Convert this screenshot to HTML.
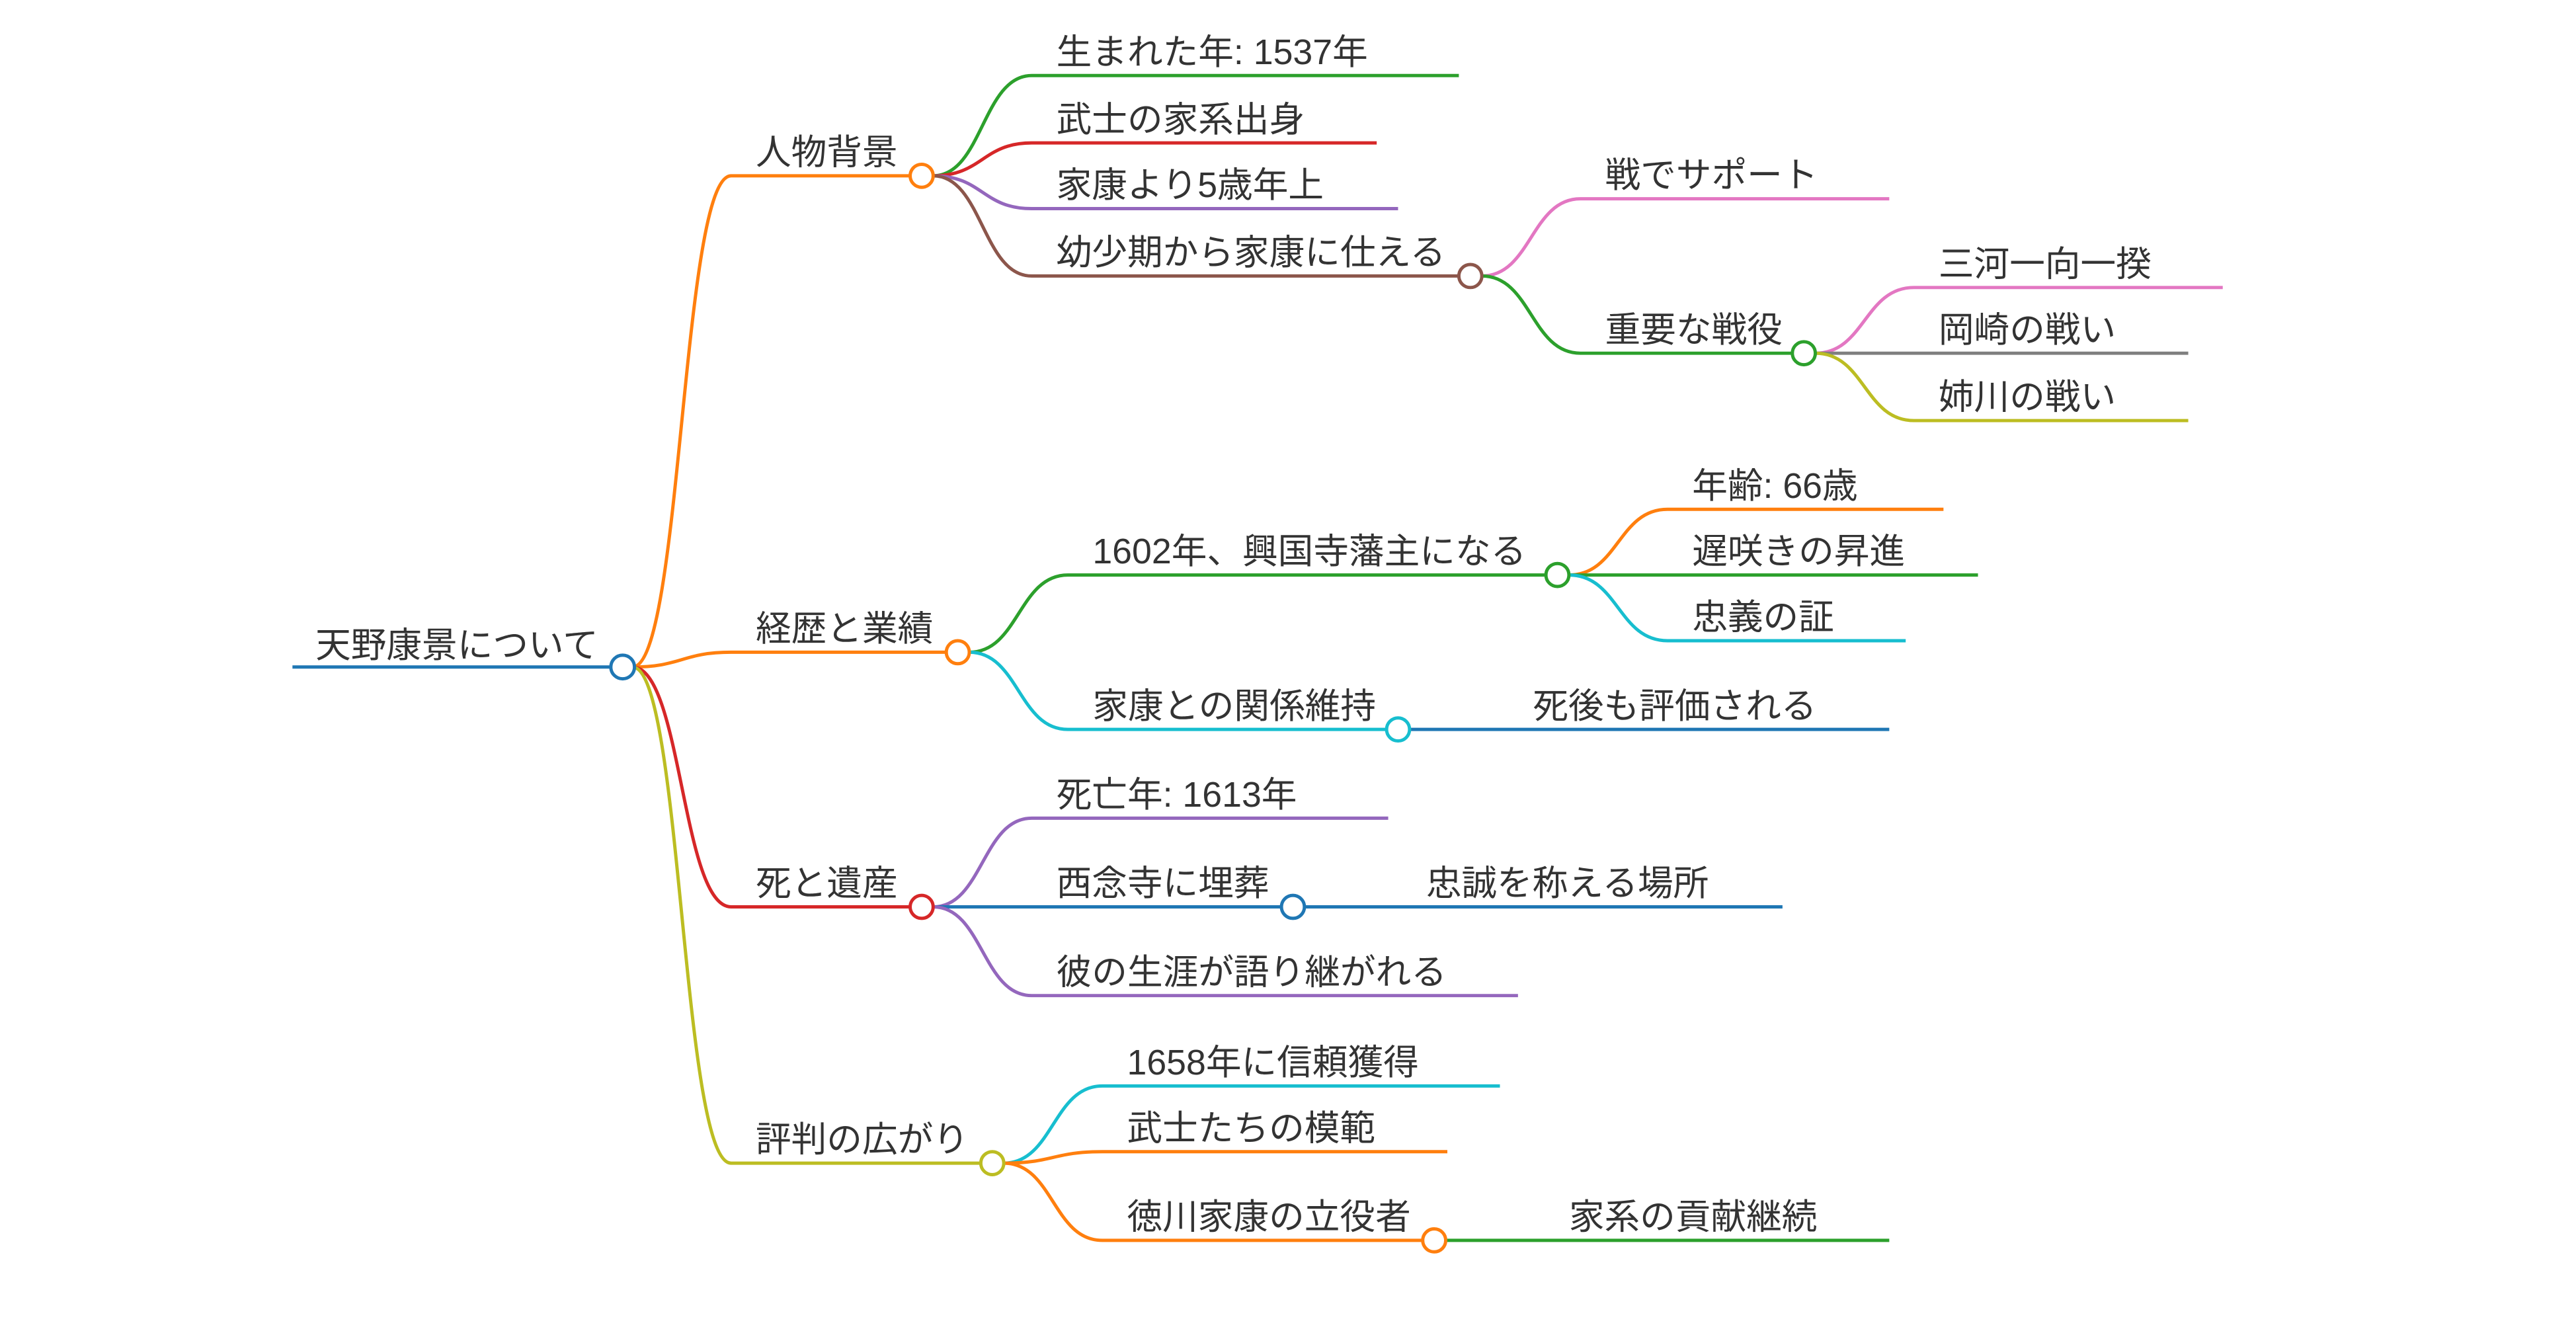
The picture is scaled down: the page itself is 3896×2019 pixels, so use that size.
<!DOCTYPE html>
<html><head><meta charset="utf-8">
<style>
html,body{margin:0;padding:0;background:#fff;}
svg{display:block;}
text{font-family:"Liberation Sans","Noto Sans CJK JP",sans-serif;font-size:21.6px;fill:#333;}
path{fill:none;stroke-width:2;}
circle{fill:#fff;stroke-width:2;}
</style></head><body>
<svg width="3896" height="2019" viewBox="0 0 1568 812.6" xmlns="http://www.w3.org/2000/svg">
<path d="M178 406 H372" stroke="#1f77b4" stroke-width="2.8"/>
<text x="192" y="400">天野康景について</text>

<path d="M385 406 C415 406,415 107,445 107 H554" stroke="#ff7f0e"/>
<path d="M385 406 C415 406,415 397,445 397 H576" stroke="#ff7f0e"/>
<path d="M385 406 C415 406,415 552,445 552 H554" stroke="#d62728"/>
<path d="M385 406 C415 406,415 708,445 708 H597" stroke="#bcbd22"/>
<text x="460" y="100">人物背景</text>
<text x="460" y="390">経歴と業績</text>
<text x="460" y="545">死と遺産</text>
<text x="460" y="701">評判の広がり</text>

<path d="M568 107 C598 107,598 46,628 46 H888" stroke="#2ca02c"/>
<path d="M568 107 C598 107,598 87,628 87 H838" stroke="#d62728"/>
<path d="M568 107 C598 107,598 127,628 127 H851" stroke="#9467bd"/>
<path d="M568 107 C598 107,598 168,628 168 H888" stroke="#8c564b"/>
<text x="643" y="39">生まれた年: 1537年</text>
<text x="643" y="80">武士の家系出身</text>
<text x="643" y="120">家康より5歳年上</text>
<text x="643" y="161">幼少期から家康に仕える</text>

<path d="M902 168 C932 168,932 121,962 121 H1150" stroke="#e377c2"/>
<path d="M902 168 C932 168,932 215,962 215 H1091" stroke="#2ca02c"/>
<text x="977" y="114">戦でサポート</text>
<text x="977" y="208">重要な戦役</text>

<path d="M1105 215 C1135 215,1135 175,1165 175 H1353" stroke="#e377c2"/>
<path d="M1105 215 H1332" stroke="#7f7f7f"/>
<path d="M1105 215 C1135 215,1135 256,1165 256 H1332" stroke="#bcbd22"/>
<text x="1180" y="168">三河一向一揆</text>
<text x="1180" y="208">岡崎の戦い</text>
<text x="1180" y="249">姉川の戦い</text>

<path d="M590 397 C620 397,620 350,650 350 H941" stroke="#2ca02c"/>
<path d="M590 397 C620 397,620 444,650 444 H844" stroke="#17becf"/>
<text x="665" y="343">1602年、興国寺藩主になる</text>
<text x="665" y="437">家康との関係維持</text>

<path d="M955 350 C985 350,985 310,1015 310 H1183" stroke="#ff7f0e"/>
<path d="M955 350 H1204" stroke="#2ca02c"/>
<path d="M955 350 C985 350,985 390,1015 390 H1160" stroke="#17becf"/>
<text x="1030" y="303">年齢: 66歳</text>
<text x="1030" y="343">遅咲きの昇進</text>
<text x="1030" y="383">忠義の証</text>

<path d="M858 444 H1150" stroke="#1f77b4"/>
<text x="933" y="437">死後も評価される</text>

<path d="M568 552 C598 552,598 498,628 498 H845" stroke="#9467bd"/>
<path d="M568 552 H780" stroke="#1f77b4"/>
<path d="M568 552 C598 552,598 606,628 606 H924" stroke="#9467bd"/>
<text x="643" y="491">死亡年: 1613年</text>
<text x="643" y="545">西念寺に埋葬</text>
<text x="643" y="599">彼の生涯が語り継がれる</text>
<path d="M794 552 H1085" stroke="#1f77b4"/>
<text x="868" y="545">忠誠を称える場所</text>

<path d="M611 708 C641 708,641 661,671 661 H913" stroke="#17becf"/>
<path d="M611 708 C641 708,641 701,671 701 H881" stroke="#ff7f0e"/>
<path d="M611 708 C641 708,641 755,671 755 H866" stroke="#ff7f0e"/>
<text x="686" y="654">1658年に信頼獲得</text>
<text x="686" y="694">武士たちの模範</text>
<text x="686" y="748">徳川家康の立役者</text>
<path d="M880 755 H1150" stroke="#2ca02c"/>
<text x="955" y="748">家系の貢献継続</text>

<circle cx="379" cy="406" r="7.2" stroke="#1f77b4" stroke-width="2.4"/>
<circle cx="561" cy="107" r="7" stroke="#ff7f0e"/>
<circle cx="583" cy="397" r="7" stroke="#ff7f0e"/>
<circle cx="561" cy="552" r="7" stroke="#d62728"/>
<circle cx="604" cy="708" r="7" stroke="#bcbd22"/>
<circle cx="895" cy="168" r="7" stroke="#8c564b"/>
<circle cx="1098" cy="215" r="7" stroke="#2ca02c"/>
<circle cx="948" cy="350" r="7" stroke="#2ca02c"/>
<circle cx="851" cy="444" r="7" stroke="#17becf"/>
<circle cx="787" cy="552" r="7" stroke="#1f77b4"/>
<circle cx="873" cy="755" r="7" stroke="#ff7f0e"/>
</svg>
</body></html>
